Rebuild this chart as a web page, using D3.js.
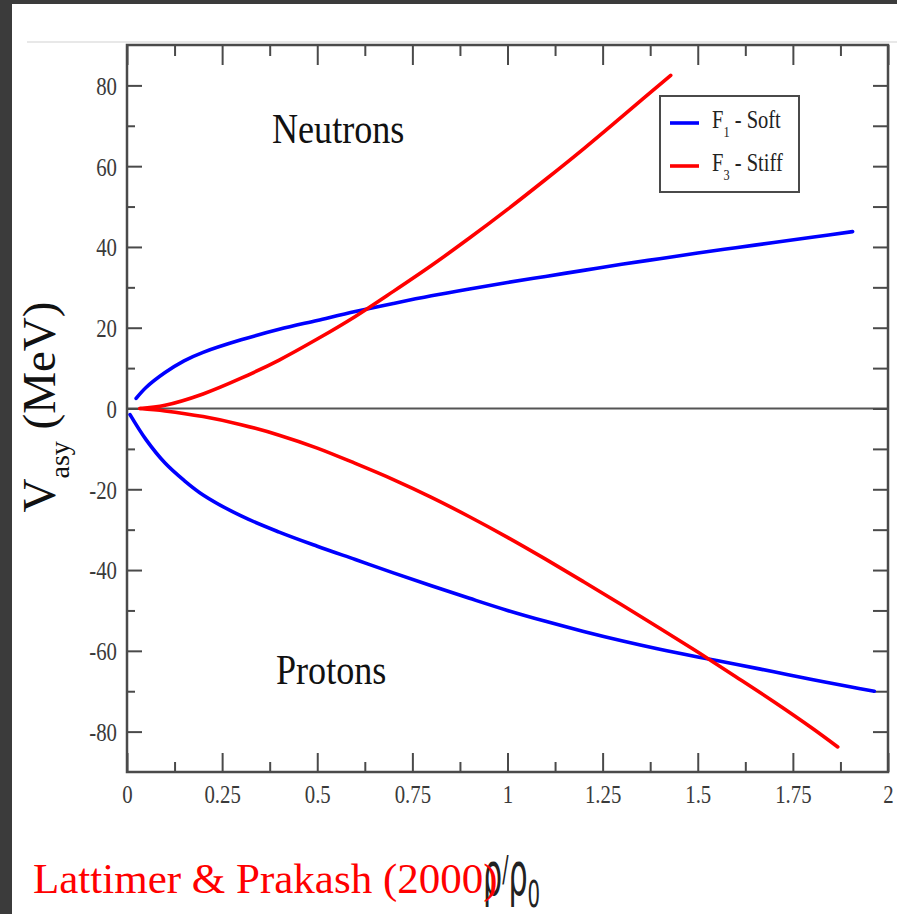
<!DOCTYPE html>
<html>
<head>
<meta charset="utf-8">
<script src="https://cdn.jsdelivr.net/npm/d3@7"></script>
<style>
  html, body { margin: 0; padding: 0; background: #fff; }
  svg { display: block; }
</style>
</head>
<body>
<svg id="chart" width="897" height="914"></svg>
<script>
// ---------- DATA ----------
const seriesNames = ["F1 - Soft", "F3 - Stiff"];
const legendMain = ["F", "F"];
const legendSub = ["1", "3"];
const legendTail = [" - Soft", " - Stiff"];

// F1 soft, neutrons (upper blue)
const softNeutronU = [0.024, 0.05, 0.1, 0.15, 0.2, 0.3, 0.4, 0.5, 0.6, 0.7, 0.8, 0.9, 1.0, 1.1, 1.2, 1.3, 1.4, 1.5, 1.6, 1.7, 1.8, 1.907];
const softNeutronV = [2.5, 5.2, 8.9, 11.8, 13.9, 17.0, 19.6, 21.8, 24.0, 26.0, 27.9, 29.6, 31.2, 32.7, 34.2, 35.7, 37.1, 38.5, 39.8, 41.1, 42.4, 43.8];

// F3 stiff, neutrons (upper red)
const stiffNeutronU = [0.034, 0.1, 0.2, 0.3, 0.4, 0.5, 0.6, 0.7, 0.8, 0.9, 1.0, 1.1, 1.2, 1.3, 1.429];
const stiffNeutronV = [0.0, 0.8, 3.6, 7.5, 12.0, 17.2, 22.8, 29.0, 35.4, 42.2, 49.3, 56.7, 64.3, 72.2, 82.5];

// F1 soft, protons (lower blue)
const softProtonU = [0.008, 0.05, 0.1, 0.15, 0.2, 0.3, 0.4, 0.5, 0.6, 0.7, 0.8, 0.9, 1.0, 1.1, 1.2, 1.3, 1.4, 1.5, 1.6, 1.7, 1.8, 1.9, 1.964];
const softProtonV = [-1.5, -7.7, -13.5, -17.8, -21.4, -26.6, -30.6, -34.1, -37.4, -40.7, -43.9, -47.0, -50.0, -52.7, -55.2, -57.5, -59.6, -61.5, -63.3, -65.2, -67.1, -68.9, -70.0];

// F3 stiff, protons (lower red)
const stiffProtonU = [0.034, 0.1, 0.2, 0.3, 0.4, 0.5, 0.6, 0.7, 0.8, 0.9, 1.0, 1.1, 1.2, 1.3, 1.4, 1.5, 1.6, 1.7, 1.8, 1.868];
const stiffProtonV = [0.0, -0.6, -2.0, -4.0, -6.6, -9.8, -13.6, -17.6, -22.0, -26.8, -31.9, -37.3, -42.9, -48.6, -54.4, -60.3, -66.4, -72.6, -79.1, -83.8];

const xMajorTicks = [0, 0.25, 0.5, 0.75, 1, 1.25, 1.5, 1.75, 2];
const xTickLabels = ["0", "0.25", "0.5", "0.75", "1", "1.25", "1.5", "1.75", "2"];
const xMinorTicks = [0.125, 0.375, 0.625, 0.875, 1.125, 1.375, 1.625, 1.875];
const yMajorTicks = [-80, -60, -40, -20, 0, 20, 40, 60, 80];
const yTickLabels = ["-80", "-60", "-40", "-20", "0", "20", "40", "60", "80"];
const yMinorTicks = [-70, -50, -30, -10, 10, 30, 50, 70];
const yAllTicks = [-80, -70, -60, -50, -40, -30, -20, -10, 0, 10, 20, 30, 40, 50, 60, 70, 80];

// ---------- CHART ----------
const svg = d3.select("#chart");
const L = 127, R = 888, T = 45, B = 772;
const x = d3.scaleLinear().domain([0, 2]).range([L, R]);
const y = d3.scaleLinear().domain([-90, 90]).range([B, T]);
const serif = "'Liberation Serif', 'Times New Roman', serif";
const axisCol = "#4a4a4a";
const labelCol = "#3a3a3a";

// page decorations
svg.append("rect").attr("x", 0).attr("y", 0).attr("width", 897).attr("height", 914).attr("fill", "#fff");
svg.append("rect").attr("x", 0).attr("y", 0).attr("width", 897).attr("height", 4).attr("fill", "#3b3b3b");
svg.append("rect").attr("x", 0).attr("y", 0).attr("width", 12).attr("height", 914).attr("fill", "#3b3b3b");
svg.append("rect").attr("x", 27).attr("y", 41).attr("width", 870).attr("height", 2).attr("fill", "#e8e8e8");

// zero line
svg.append("line").attr("x1", x(0)).attr("x2", x(2)).attr("y1", y(0)).attr("y2", y(0))
  .attr("stroke", "#555").attr("stroke-width", 2);

function styleAxis(g) {
  g.select(".domain").remove();
  g.selectAll(".tick line").attr("stroke", axisCol).attr("stroke-width", 2);
}

// bottom axis
const gb = svg.append("g").attr("transform", `translate(0,${B})`)
  .call(d3.axisBottom(x).tickValues(xMajorTicks).tickSize(-19).tickFormat((d, i) => xTickLabels[i]));
styleAxis(gb);
gb.selectAll(".tick text").attr("y", 31).attr("dy", 0)
  .attr("font-family", serif).attr("font-size", 26).attr("fill", labelCol)
  .attr("transform", "scale(0.8,1)");
const gbm = svg.append("g").attr("transform", `translate(0,${B})`)
  .call(d3.axisBottom(x).tickValues(xMinorTicks).tickSize(-10).tickFormat(""));
styleAxis(gbm);

// top axis
const gt = svg.append("g").attr("transform", `translate(0,${T})`)
  .call(d3.axisTop(x).tickValues(xMajorTicks).tickSize(-20).tickFormat(""));
styleAxis(gt);
const gtm = svg.append("g").attr("transform", `translate(0,${T})`)
  .call(d3.axisTop(x).tickValues(xMinorTicks).tickSize(-11).tickFormat(""));
styleAxis(gtm);

// left axis
const gl = svg.append("g").attr("transform", `translate(${L},0)`)
  .call(d3.axisLeft(y).tickValues(yMajorTicks).tickSize(-15).tickFormat((d, i) => yTickLabels[i]));
styleAxis(gl);
gl.selectAll(".tick text").attr("x", -12.5).attr("dy", "0.34em")
  .attr("font-family", serif).attr("font-size", 26).attr("fill", labelCol)
  .attr("transform", "scale(0.8,1)");
const glm = svg.append("g").attr("transform", `translate(${L},0)`)
  .call(d3.axisLeft(y).tickValues(yMinorTicks).tickSize(-8).tickFormat(""));
styleAxis(glm);

// right axis
const gr = svg.append("g").attr("transform", `translate(${R},0)`)
  .call(d3.axisRight(y).tickValues(yAllTicks).tickSize(-15).tickFormat(""));
styleAxis(gr);

// frame
svg.append("rect").attr("x", L).attr("y", T).attr("width", R - L).attr("height", B - T)
  .attr("fill", "none").attr("stroke", axisCol).attr("stroke-width", 2.5);

// curves
const line = d3.line().x(d => x(d[0])).y(d => y(d[1])).curve(d3.curveCatmullRom.alpha(0.5));
const curves = [
  { u: softNeutronU, v: softNeutronV, c: "#0000ff" },
  { u: stiffNeutronU, v: stiffNeutronV, c: "#ff0000" },
  { u: softProtonU, v: softProtonV, c: "#0000ff" },
  { u: stiffProtonU, v: stiffProtonV, c: "#ff0000" }
];
curves.forEach(s => {
  svg.append("path").datum(d3.zip(s.u, s.v)).attr("d", line)
    .attr("fill", "none").attr("stroke", s.c).attr("stroke-width", 3.6)
    .attr("stroke-linecap", "round").attr("stroke-linejoin", "round");
});

// annotations
svg.append("text").attr("transform", "translate(272,143) scale(0.86,1)")
  .attr("font-family", serif).attr("font-size", 42).attr("fill", "#111").text("Neutrons");
svg.append("text").attr("transform", "translate(276,684) scale(0.86,1)")
  .attr("font-family", serif).attr("font-size", 42).attr("fill", "#111").text("Protons");

// legend
svg.append("rect").attr("x", 660).attr("y", 96).attr("width", 139).attr("height", 96)
  .attr("fill", "#fff").attr("stroke", axisCol).attr("stroke-width", 2);
const legColors = ["#0000ff", "#ff0000"];
const legY = [123, 166];
seriesNames.forEach((n, i) => {
  svg.append("line").attr("x1", 670).attr("x2", 699).attr("y1", legY[i]).attr("y2", legY[i])
    .attr("stroke", legColors[i]).attr("stroke-width", 3.6);
  const t = svg.append("text").attr("transform", `translate(712,${legY[i] + 5}) scale(0.82,1)`)
    .attr("font-family", serif).attr("font-size", 25).attr("fill", "#222");
  t.append("tspan").text(legendMain[i]);
  t.append("tspan").attr("dy", 9).attr("font-size", 15).text(legendSub[i]);
  t.append("tspan").attr("dy", -9).text(legendTail[i]);
});

// y axis title
const yt = svg.append("text").attr("transform", "translate(55,407) rotate(-90)")
  .attr("text-anchor", "middle").attr("font-family", serif).attr("font-size", 47).attr("fill", "#111");
yt.append("tspan").text("V");
yt.append("tspan").attr("dy", 14).attr("font-size", 28).text("asy");
yt.append("tspan").attr("dy", -14).text(" (MeV)");

// x axis title
const xt = svg.append("text").attr("transform", "translate(483,895) scale(0.52,1)")
  .attr("font-family", "'DejaVu Sans', sans-serif").attr("font-size", 58).attr("fill", "#222");
xt.append("tspan").text("ρ");
xt.append("tspan").attr("dy", -14).attr("font-size", 36).text("/");
xt.append("tspan").attr("dy", 14).text("ρ");
xt.append("tspan").attr("dy", 12).attr("font-size", 38).text("0");

// citation
svg.append("text").attr("x", 33).attr("y", 893)
  .attr("font-family", serif).attr("font-size", 43).attr("fill", "#ff0000")
  .text("Lattimer & Prakash (2000)");
</script>
</body>
</html>
